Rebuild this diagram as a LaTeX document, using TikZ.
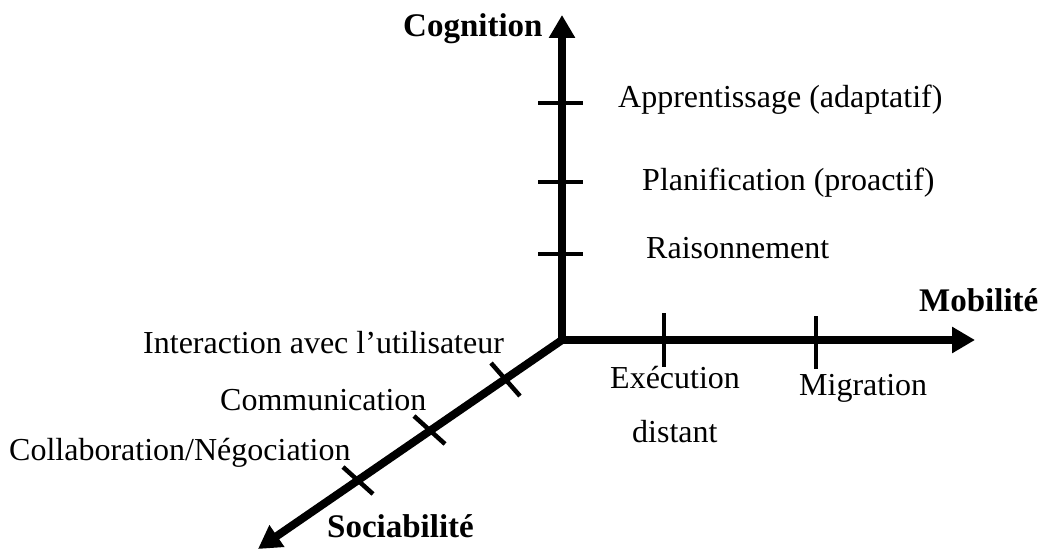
\documentclass[tikz,border=0pt]{standalone}
\usepackage{fontspec}
\setmainfont{Liberation Serif}
\usetikzlibrary{arrows.meta}
\begin{document}
\begin{tikzpicture}[x=1pt,y=-1pt,
  axis/.style={line width=8pt,-{Triangle[length=23pt,width=25pt]}},
  tickmark/.style={line width=4.5pt},
  lbl/.style={inner sep=0pt,anchor=base west,font=\fontsize{32}{38}\selectfont},
  axlbl/.style={lbl,font=\fontsize{33}{39}\selectfont\bfseries}]
\useasboundingbox (0,0) rectangle (1041,551);

% origin and axis ends
\coordinate (O) at (562,340);
\coordinate (Ov) at (562,344);
\coordinate (Oh) at (558,340);
\coordinate (Cog) at (562,15);
\coordinate (Mob) at (975,340);
\coordinate (Soc) at (258,549);

\draw[axis] (Ov) -- (Cog);
\draw[axis] (Oh) -- (Mob);
\draw[axis] (O) -- (Soc);

% ticks on the vertical axis
\coordinate (v1a) at (538,103); \coordinate (v1b) at (583,103);
\coordinate (v2a) at (538,182); \coordinate (v2b) at (583,182);
\coordinate (v3a) at (538,254); \coordinate (v3b) at (583,254);
\draw[tickmark] (v1a) -- (v1b);
\draw[tickmark] (v2a) -- (v2b);
\draw[tickmark] (v3a) -- (v3b);

% ticks on the horizontal axis
\coordinate (h1a) at (664,313); \coordinate (h1b) at (664,367);
\coordinate (h2a) at (816,316); \coordinate (h2b) at (816,369);
\draw[tickmark] (h1a) -- (h1b);
\draw[tickmark] (h2a) -- (h2b);

% ticks on the oblique axis
\coordinate (d1a) at (491,363); \coordinate (d1b) at (520,396);
\coordinate (d2a) at (414,416); \coordinate (d2b) at (445,444);
\coordinate (d3a) at (343,467); \coordinate (d3b) at (373,494);
\draw[tickmark] (d1a) -- (d1b);
\draw[tickmark] (d2a) -- (d2b);
\draw[tickmark] (d3a) -- (d3b);

% axis titles
\node[axlbl] (tCog) at (403,37) {Cognition};
\node[axlbl] (tMob) at (919,311) {Mobilité};
\node[axlbl] (tSoc) at (327,537) {Sociabilité};

% cognition levels
\node[lbl] (app) at (618,107) {Apprentissage (adaptatif)};
\node[lbl] (pla) at (642,190) {Planification (proactif)};
\node[lbl] (rai) at (646,258) {Raisonnement};

% mobility levels
\node[lbl] (exe) at (610,388) {Exécution};
\node[lbl] (dis) at (632,442) {distant};
\node[lbl] (mig) at (799,395) {Migration};

% sociability levels
\node[lbl] (int) at (143,353) {Interaction avec l’utilisateur};
\node[lbl] (com) at (220,410) {Communication};
\node[lbl] (col) at (9,460) {Collaboration/Négociation};
\end{tikzpicture}
\end{document}
